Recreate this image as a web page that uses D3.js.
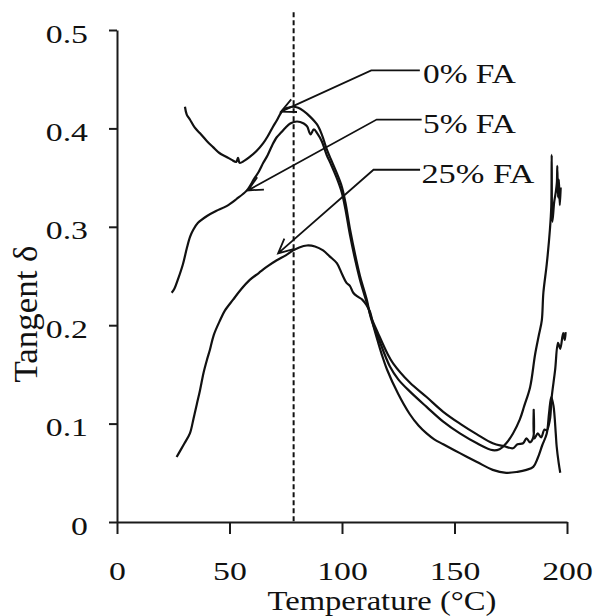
<!DOCTYPE html>
<html>
<head>
<meta charset="utf-8">
<script src="https://cdn.jsdelivr.net/npm/d3@7"></script>
<style>
  body { margin: 0; background: #fff; }
  text { font-family: "Liberation Serif", "Times New Roman", serif; fill: #111; }
</style>
</head>
<body>
<div id="chart"></div>
<script>
// tan delta vs temperature as [temperature, tan d]
var fa0 = [[30.2,0.422],[31.0,0.414],[32.4,0.409],[34.5,0.401],[36.9,0.395],[40.0,0.387],[42.7,0.381],[45.5,0.375],[48.7,0.371],[51.0,0.368],[53.0,0.366],[53.8,0.370],[54.5,0.365],[56.5,0.367],[59.0,0.371],[62.0,0.377],[65.0,0.385],[67.0,0.392],[69.4,0.402],[71.0,0.408],[72.4,0.414],[74.0,0.419],[76.0,0.421],[78.2,0.422],[80.5,0.421],[82.7,0.418],[85.8,0.412],[88.9,0.404],[91.0,0.394],[93.2,0.379],[95.0,0.369],[97.6,0.355],[99.9,0.341],[101.5,0.325],[103.6,0.297],[106.0,0.270],[108.0,0.250],[111.0,0.226],[113.0,0.206],[116.0,0.188],[121.3,0.158],[125.0,0.145],[130.0,0.133],[137.6,0.117],[145.0,0.102],[152.4,0.090],[160.0,0.080],[167.0,0.073],[170.0,0.074],[173.0,0.080],[176.0,0.090],[179.0,0.104],[181.0,0.118],[183.6,0.137],[185.8,0.170],[187.5,0.190],[188.8,0.205],[189.5,0.233],[191.0,0.262],[192.4,0.297],[193.0,0.320],[193.2,0.373],[193.5,0.305],[194.3,0.325],[195.0,0.335],[195.5,0.345],[195.7,0.362],[196.0,0.330],[196.4,0.348],[196.8,0.322],[197.2,0.340]];

var fa5 = [[24.3,0.233],[25.5,0.237],[27.0,0.246],[29.3,0.262],[31.0,0.278],[32.5,0.290],[33.9,0.297],[36.0,0.304],[40.0,0.311],[44.0,0.316],[48.7,0.321],[53.0,0.328],[57.7,0.337],[61.0,0.349],[63.0,0.356],[65.0,0.365],[67.0,0.373],[69.0,0.383],[71.0,0.391],[73.0,0.396],[75.0,0.401],[77.0,0.405],[80.0,0.407],[83.0,0.405],[84.5,0.402],[86.0,0.394],[87.5,0.399],[89.0,0.395],[91.0,0.387],[93.2,0.373],[95.0,0.364],[97.6,0.350],[99.9,0.335],[101.5,0.318],[103.6,0.291],[106.0,0.265],[108.0,0.246],[111.0,0.223],[113.0,0.208],[116.0,0.192],[120.0,0.172],[122.8,0.161],[130.0,0.142],[137.6,0.127],[145.0,0.112],[152.4,0.100],[160.0,0.089],[167.0,0.080],[172.0,0.077],[176.0,0.075],[178.0,0.079],[180.5,0.080],[182.0,0.085],[183.5,0.081],[185.0,0.086],[185.2,0.114],[185.5,0.085],[187.0,0.090],[188.5,0.086],[190.0,0.094],[191.0,0.093],[192.4,0.104],[193.2,0.127],[194.7,0.154],[196.0,0.182],[197.0,0.176],[198.3,0.192],[199.0,0.185],[199.4,0.193]];

var fa25 = [[26.5,0.066],[28.0,0.072],[30.0,0.080],[32.4,0.090],[34.0,0.105],[35.5,0.120],[36.9,0.134],[38.5,0.152],[40.0,0.165],[41.3,0.175],[43.0,0.190],[45.8,0.205],[48.0,0.215],[51.6,0.226],[55.0,0.236],[59.0,0.246],[63.0,0.253],[67.0,0.260],[71.0,0.266],[75.0,0.271],[78.3,0.276],[81.0,0.279],[84.4,0.281],[88.0,0.280],[91.6,0.276],[94.5,0.270],[97.7,0.263],[100.0,0.252],[102.0,0.243],[103.5,0.240],[105.0,0.233],[107.0,0.229],[109.0,0.226],[111.0,0.220],[112.4,0.214],[114.0,0.199],[116.0,0.183],[118.0,0.168],[120.0,0.155],[125.0,0.130],[130.0,0.110],[134.0,0.098],[137.6,0.090],[141.0,0.084],[145.0,0.079],[152.4,0.070],[160.0,0.061],[167.0,0.053],[173.0,0.050],[178.0,0.051],[182.0,0.053],[185.0,0.056],[187.0,0.065],[189.0,0.078],[191.0,0.090],[192.0,0.110],[193.0,0.127],[194.0,0.118],[195.0,0.090],[195.4,0.077],[196.3,0.060],[197.0,0.050]];

var seriesNames = ["0% FA", "5% FA", "25% FA"];
var xTicks = [0, 50, 100, 150, 200];
var xTickLabels = ["0", "50", "100", "150", "200"];
var yTicks = [0, 0.1, 0.2, 0.3, 0.4, 0.5];
var yTickLabels = ["0", "0.1", "0.2", "0.3", "0.4", "0.5"];
var markerTemp = 78.5;   // dashed reference line

var w = 595;
var h = 616;

var x = d3.scaleLinear().domain([0, 200]).range([117, 567]);
var y = d3.scaleLinear().domain([0, 0.5]).range([522, 30]);

var svg = d3.select("#chart")
            .append("svg")
            .attr("width", w)
            .attr("height", h);

// stretch a text horizontally so it spans the given width
function fitWidth(sel, px, py, width) {
  sel.attr("x", 0).attr("y", 0);
  var k = width / sel.node().getComputedTextLength();
  sel.attr("transform", "translate(" + px + "," + py + ") scale(" + k + ",1)");
}

// axes
var xAxis = svg.append("g")
    .attr("transform", "translate(0," + y(0) + ")")
    .call(d3.axisBottom(x)
            .tickValues(xTicks)
            .tickSize(12)
            .tickSizeOuter(0)
            .tickFormat(function(d, i) { return xTickLabels[i]; }));

var yAxis = svg.append("g")
    .attr("transform", "translate(" + x(0) + ",0)")
    .call(d3.axisLeft(y)
            .tickValues(yTicks)
            .tickSize(8)
            .tickSizeOuter(0)
            .tickFormat(function(d, i) { return yTickLabels[i]; }));

[xAxis, yAxis].forEach(function(g) {
  g.select(".domain").attr("stroke", "#1a1a1a").attr("stroke-width", 2);
  g.selectAll(".tick line").attr("stroke", "#1a1a1a").attr("stroke-width", 2);
  g.selectAll(".tick text").style("font-size", "26px");
});

xAxis.selectAll(".tick text")
     .attr("dy", null)
     .attr("y", 58)
     .attr("transform", "scale(1.3,1)");

yAxis.selectAll(".tick text")
     .attr("dy", null)
     .attr("y", 12)
     .attr("x", -29 / 1.3)
     .attr("transform", "scale(1.3,1)");

// axis titles
var xTitle = svg.append("text")
    .attr("text-anchor", "middle")
    .style("font-size", "27px")
    .text("Temperature (\u00B0C)");
fitWidth(xTitle, 382, 610, 229);

svg.append("text")
    .attr("text-anchor", "middle")
    .attr("transform", "translate(37,314) rotate(-90)")
    .attr("textLength", 137)
    .attr("lengthAdjust", "spacingAndGlyphs")
    .style("font-size", "34px")
    .text("Tangent \u03B4");

// dashed reference line
svg.append("line")
    .attr("x1", x(markerTemp))
    .attr("x2", x(markerTemp))
    .attr("y1", y(0.518))
    .attr("y2", y(0))
    .attr("stroke", "#111")
    .attr("stroke-width", 2)
    .attr("stroke-dasharray", "5,3");

// curves
var line = d3.line()
    .curve(d3.curveCatmullRom.alpha(0.5))
    .x(function(d) { return x(d[0]); })
    .y(function(d) { return y(d[1]); });

svg.selectAll(".curve")
    .data([fa0, fa5, fa25])
    .enter()
    .append("path")
    .attr("class", "curve")
    .attr("d", line)
    .attr("fill", "none")
    .attr("stroke", "#111")
    .attr("stroke-width", 2.2)
    .attr("stroke-linejoin", "round");

// leader arrows with labels
var anno = [
  {text: [136.0, 0.446], width: 93,  elbow: [113.0, 0.459], end: 134.6, tip: [72.9, 0.417]},
  {text: [136.0, 0.395], width: 93,  elbow: [115.4, 0.409], end: 135.4, tip: [58.2, 0.337]},
  {text: [135.3, 0.3445], width: 113, elbow: [114.0, 0.358], end: 134.7, tip: [71.6, 0.273]}
];

anno.forEach(function(a, i) {
  var ex = x(a.elbow[0]), ey = y(a.elbow[1]);
  var tx = x(a.tip[0]), ty = y(a.tip[1]);
  var ang = Math.atan2(ty - ey, tx - ex);
  var L = 16, th = 0.45;
  var p = d3.path();
  p.moveTo(x(a.end), ey);
  p.lineTo(ex, ey);
  p.lineTo(tx, ty);
  p.moveTo(tx - L * Math.cos(ang - th), ty - L * Math.sin(ang - th));
  p.lineTo(tx, ty);
  p.lineTo(tx - L * Math.cos(ang + th), ty - L * Math.sin(ang + th));
  svg.append("path")
     .attr("d", p.toString())
     .attr("fill", "none")
     .attr("stroke", "#111")
     .attr("stroke-width", 1.8);

  var t = svg.append("text")
     .style("font-size", "27px")
     .text(seriesNames[i]);
  fitWidth(t, x(a.text[0]), y(a.text[1]), a.width);
});
</script>
</body>
</html>
